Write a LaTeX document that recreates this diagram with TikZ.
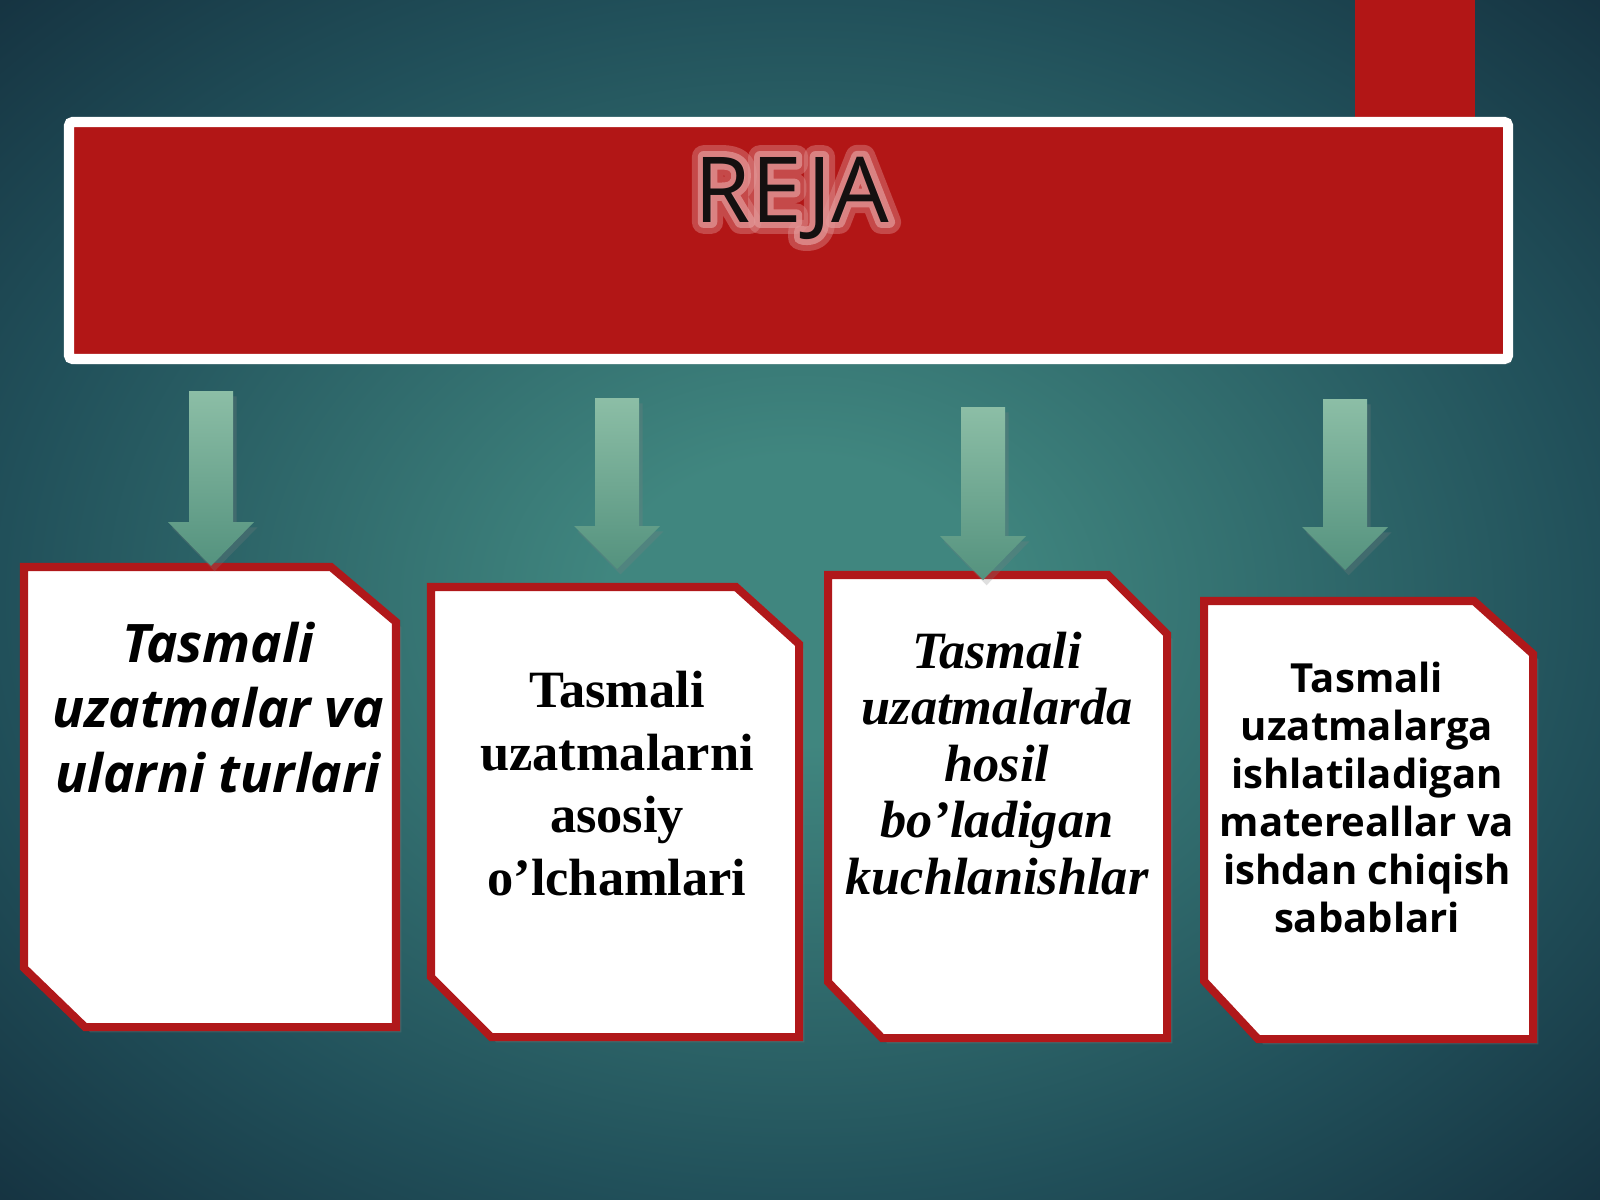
\documentclass[tikz,border=0pt]{standalone}
\usepackage{fontspec}
\setmainfont{Liberation Serif}
\newfontfamily\opensans{Open Sans}
\newfontfamily\glowwide[FakeBold=26]{Open Sans}
\newfontfamily\glownarrow[FakeBold=13]{Open Sans}
\usetikzlibrary{shadows}
\definecolor{bgin}{RGB}{64,134,127}
\definecolor{bgmid}{RGB}{33,80,90}
\definecolor{bgout}{RGB}{21,50,64}
\definecolor{bannerred}{RGB}{178,22,22}
\definecolor{boxred}{RGB}{176,24,26}
\definecolor{arrowtop}{RGB}{140,190,166}
\definecolor{arrowbot}{RGB}{84,146,126}
\definecolor{titleink}{RGB}{20,16,16}
\definecolor{glowpink}{RGB}{226,150,150}
\pgfdeclareradialshading{slidebg}{\pgfpoint{0bp}{0bp}}{color(0bp)=(bgin); color(6bp)=(bgin); color(25bp)=(bgmid); color(36bp)=(bgout); color(50bp)=(bgout)}
\def\blockarrow(#1,#2,#3,#4){\shade[top color=arrowtop, bottom color=arrowbot, drop shadow={opacity=0.25, shadow xshift=1pt, shadow yshift=-1.5pt}] (#1-22,#2) -- (#1+22,#2) -- (#1+22,#3) -- (#1+43,#3) -- (#1,#4) -- (#1-43,#3) -- (#1-22,#3) -- cycle;}

\begin{document}
\begin{tikzpicture}[x=0.01cm, y=-0.01cm]
	%%%%% START %%%%%
	
	\useasboundingbox (0,0) rectangle (1600,1200);
	\shade[shading=slidebg] (0,0) rectangle (1600,1200);
	
	\fill[bannerred] (1355,0) rectangle (1475,117);
	\draw[line width=2.85pt, draw=white, fill=bannerred, rounded corners=1pt, drop shadow={opacity=0.3, shadow xshift=1pt, shadow yshift=-1.5pt}] (69,122) rectangle (1508,359);
	\node (glowout) [anchor=base, text=glowpink, text opacity=0.4, line join=round, inner sep=0pt, font=\glowwide\fontsize{25.9pt}{30pt}\selectfont] at (792,222) {REJA};
	\node (glowin) [anchor=base, text=glowpink, text opacity=0.75, line join=round, inner sep=0pt, font=\glownarrow\fontsize{25.9pt}{30pt}\selectfont] at (792,222) {REJA};
	\node (title) [anchor=base, text=titleink, inner sep=0pt, font=\opensans\fontsize{25.9pt}{30pt}\selectfont] at (792,222) {REJA};
	
	\draw[line width=2.28pt, draw=boxred, fill=white, drop shadow={opacity=0.3, shadow xshift=1.5pt, shadow yshift=-1.5pt}] (24,567) -- (331,567) -- (396,622) -- (396,1027) -- (85,1027) -- (24,968) -- cycle;
	\draw[line width=2.28pt, draw=boxred, fill=white, drop shadow={opacity=0.3, shadow xshift=1.5pt, shadow yshift=-1.5pt}] (431,587) -- (736,587) -- (799,644) -- (799,1037) -- (491,1037) -- (431,977) -- cycle;
	\draw[line width=2.28pt, draw=boxred, fill=white, drop shadow={opacity=0.3, shadow xshift=1.5pt, shadow yshift=-1.5pt}] (828,575) -- (1108,575) -- (1167,634) -- (1167,1038) -- (882,1038) -- (828,982) -- cycle;
	\draw[line width=2.28pt, draw=boxred, fill=white, drop shadow={opacity=0.3, shadow xshift=1.5pt, shadow yshift=-1.5pt}] (1204,601) -- (1474,601) -- (1533,654) -- (1533,1039) -- (1258,1039) -- (1204,981) -- cycle;
	
	\blockarrow(211,391,522,566)
	\blockarrow(617,398,526,569)
	\blockarrow(983,407,536,580)
	\blockarrow(1345,399,527,570)
	
	\node (turlari) [anchor=north, align=center, inner sep=0pt, font=\opensans\bfseries\itshape\fontsize{15.1pt}{18.5pt}\selectfont] at (218,621) {Tasmali\\uzatmalar va\\ularni turlari};
	\node (olchamlari) [anchor=north, align=center, inner sep=0pt, font=\bfseries\fontsize{14.9pt}{17.9pt}\selectfont] at (617,670) {Tasmali\\uzatmalarni\\asosiy\\o’lchamlari};
	\node (kuchlanish) [anchor=north, align=center, inner sep=0pt, font=\bfseries\itshape\fontsize{14.9pt}{16.1pt}\selectfont] at (997,631) {Tasmali\\uzatmalarda\\hosil\\bo’ladigan\\kuchlanishlar};
	\node (sabablari) [anchor=north, align=center, inner sep=0pt, font=\opensans\bfseries\fontsize{11.4pt}{13.66pt}\selectfont] at (1367,661) {Tasmali\\uzatmalarga\\ishlatiladigan\\matereallar va\\ishdan chiqish\\sabablari};
	
	%%%%% END %%%%%
\end{tikzpicture}
\end{document}
